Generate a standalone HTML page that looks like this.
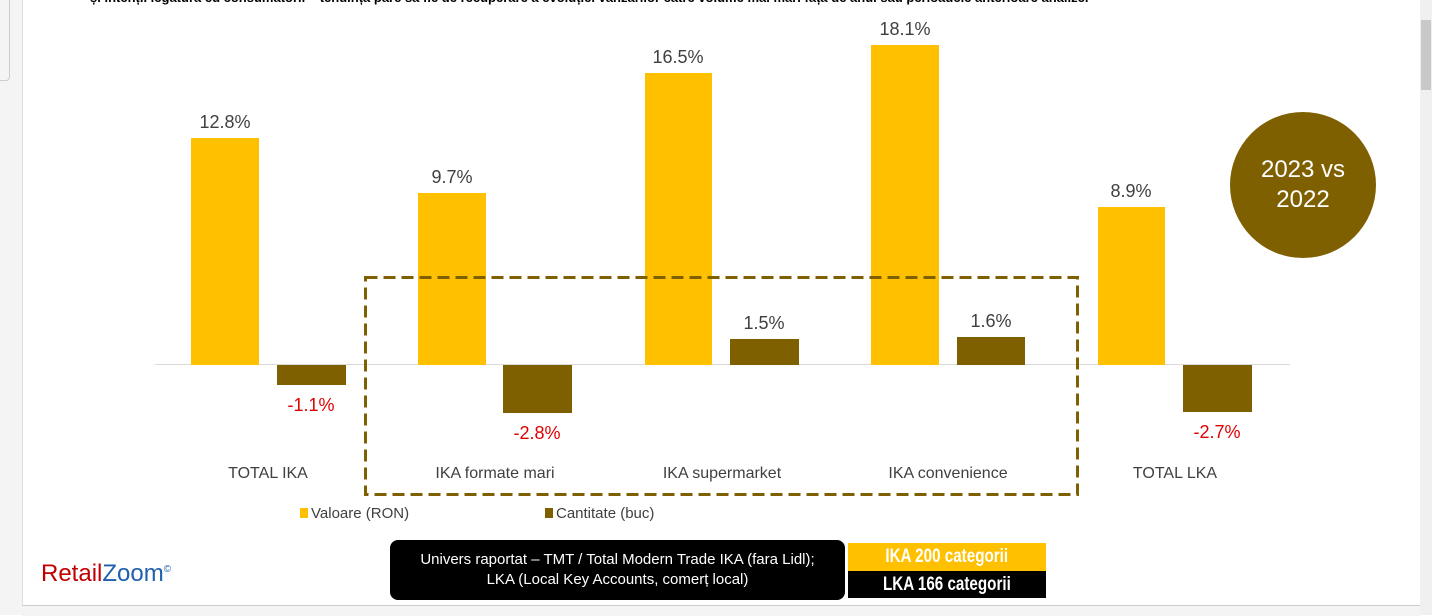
<!DOCTYPE html>
<html><head><meta charset="utf-8"><style>
body{margin:0;width:1432px;height:615px;overflow:hidden;background:#fff;font-family:"Liberation Sans",sans-serif;position:relative}
.a{position:absolute}
.y{background:#ffc000;position:absolute}
.b{background:#7f6000;position:absolute}
.l{position:absolute;width:120px;text-align:center;font-size:18px;color:#404040}
.r{color:#e00000}
.c{position:absolute;width:200px;text-align:center;font-size:16px;color:#404040}
</style></head><body>
<div class="a" style="left:0;top:0;width:22px;height:615px;background:#f4f4f4;border-right:1px solid #ddd"></div>
<div class="a" style="left:0;top:0;width:9px;height:80px;border-right:1px solid #ccc;border-bottom:1px solid #ccc;border-radius:0 0 4px 0"></div>
<div class="a" style="left:1420px;top:0;width:12px;height:615px;background:#f0f0f0"></div>
<div class="a" style="left:1421px;top:20px;width:10px;height:70px;background:#c8c8c8"></div>
<div class="a" style="left:22px;top:605px;width:1398px;height:10px;background:#f4f4f4;border-top:1px solid #ccc"></div>
<div class="a" style="left:90px;top:-10px;font-size:13px;font-weight:bold;color:#000;white-space:nowrap">și intenții legătură cu consumatorii – tendința pare să fie de recuperare a evoluției vânzărilor către volume mai mari față de anul sau perioadele anterioare analizei</div>
<div class="a" style="left:155px;top:364px;width:1135px;height:1px;background:#d9d9d9"></div>
<div class="y" style="left:191px;top:138px;width:68px;height:227px"></div>
<div class="b" style="left:277px;top:365px;width:69px;height:20px"></div>
<div class="y" style="left:418px;top:193px;width:68px;height:172px"></div>
<div class="b" style="left:503px;top:365px;width:69px;height:48px"></div>
<div class="y" style="left:645px;top:73px;width:67px;height:292px"></div>
<div class="b" style="left:730px;top:339px;width:69px;height:26px"></div>
<div class="y" style="left:871px;top:45px;width:68px;height:320px"></div>
<div class="b" style="left:957px;top:337px;width:68px;height:28px"></div>
<div class="y" style="left:1098px;top:207px;width:67px;height:158px"></div>
<div class="b" style="left:1183px;top:365px;width:69px;height:47px"></div>
<div class="l" style="left:165px;top:112px">12.8%</div>
<div class="l r" style="left:251px;top:395px">-1.1%</div>
<div class="l" style="left:392px;top:167px">9.7%</div>
<div class="l r" style="left:477px;top:423px">-2.8%</div>
<div class="l" style="left:618px;top:47px">16.5%</div>
<div class="l" style="left:704px;top:313px">1.5%</div>
<div class="l" style="left:845px;top:19px">18.1%</div>
<div class="l" style="left:931px;top:311px">1.6%</div>
<div class="l" style="left:1071px;top:181px">8.9%</div>
<div class="l r" style="left:1157px;top:422px">-2.7%</div>
<div class="c" style="left:168px;top:465px">TOTAL IKA</div>
<div class="c" style="left:395px;top:465px">IKA formate mari</div>
<div class="c" style="left:622px;top:465px">IKA supermarket</div>
<div class="c" style="left:848px;top:465px">IKA convenience</div>
<div class="c" style="left:1075px;top:465px">TOTAL LKA</div>
<svg class="a" style="left:360px;top:272px" width="724" height="228"><rect x="5.5" y="5.5" width="712" height="217" fill="none" stroke="#7f6000" stroke-width="3" stroke-dasharray="12 6"/></svg>
<div class="a" style="left:1230px;top:112px;width:146px;height:146px;border-radius:50%;background:#7f6000;color:#fff;font-size:24px;text-align:center;line-height:30px;box-sizing:border-box;padding-top:43px">2023 vs<br>2022</div>
<div class="y" style="left:300px;top:508px;width:8px;height:10px"></div>
<div class="a" style="left:311px;top:505px;font-size:15px;color:#404040">Valoare (RON)</div>
<div class="b" style="left:545px;top:508px;width:8px;height:10px"></div>
<div class="a" style="left:556px;top:505px;font-size:15px;color:#404040">Cantitate (buc)</div>
<div class="a" style="left:41px;top:560px;font-size:24px;color:#c00000">Retail<span style="color:#1f5fae">Zoom</span><sup style="font-size:10px;color:#1f5fae">©</sup></div>
<div class="a" style="left:390px;top:540px;width:455px;height:60px;background:#000;border-radius:8px;color:#fff;font-size:15px;text-align:center;line-height:20px;box-sizing:border-box;padding-top:10px">Univers raportat – TMT / Total Modern Trade IKA (fara Lidl);<br>LKA (Local Key Accounts, comerț local)</div>
<div class="a" style="left:848px;top:543px;width:198px;height:28px;background:#ffc000;color:#fff;font-size:19px;text-align:center;line-height:28px;font-weight:bold"><span style="display:inline-block;transform:scaleX(0.8)">IKA 200 categorii</span></div>
<div class="a" style="left:848px;top:571px;width:198px;height:27px;background:#000;color:#fff;font-size:19px;text-align:center;line-height:27px;font-weight:bold"><span style="display:inline-block;transform:scaleX(0.8)">LKA 166 categorii</span></div>
</body></html>
